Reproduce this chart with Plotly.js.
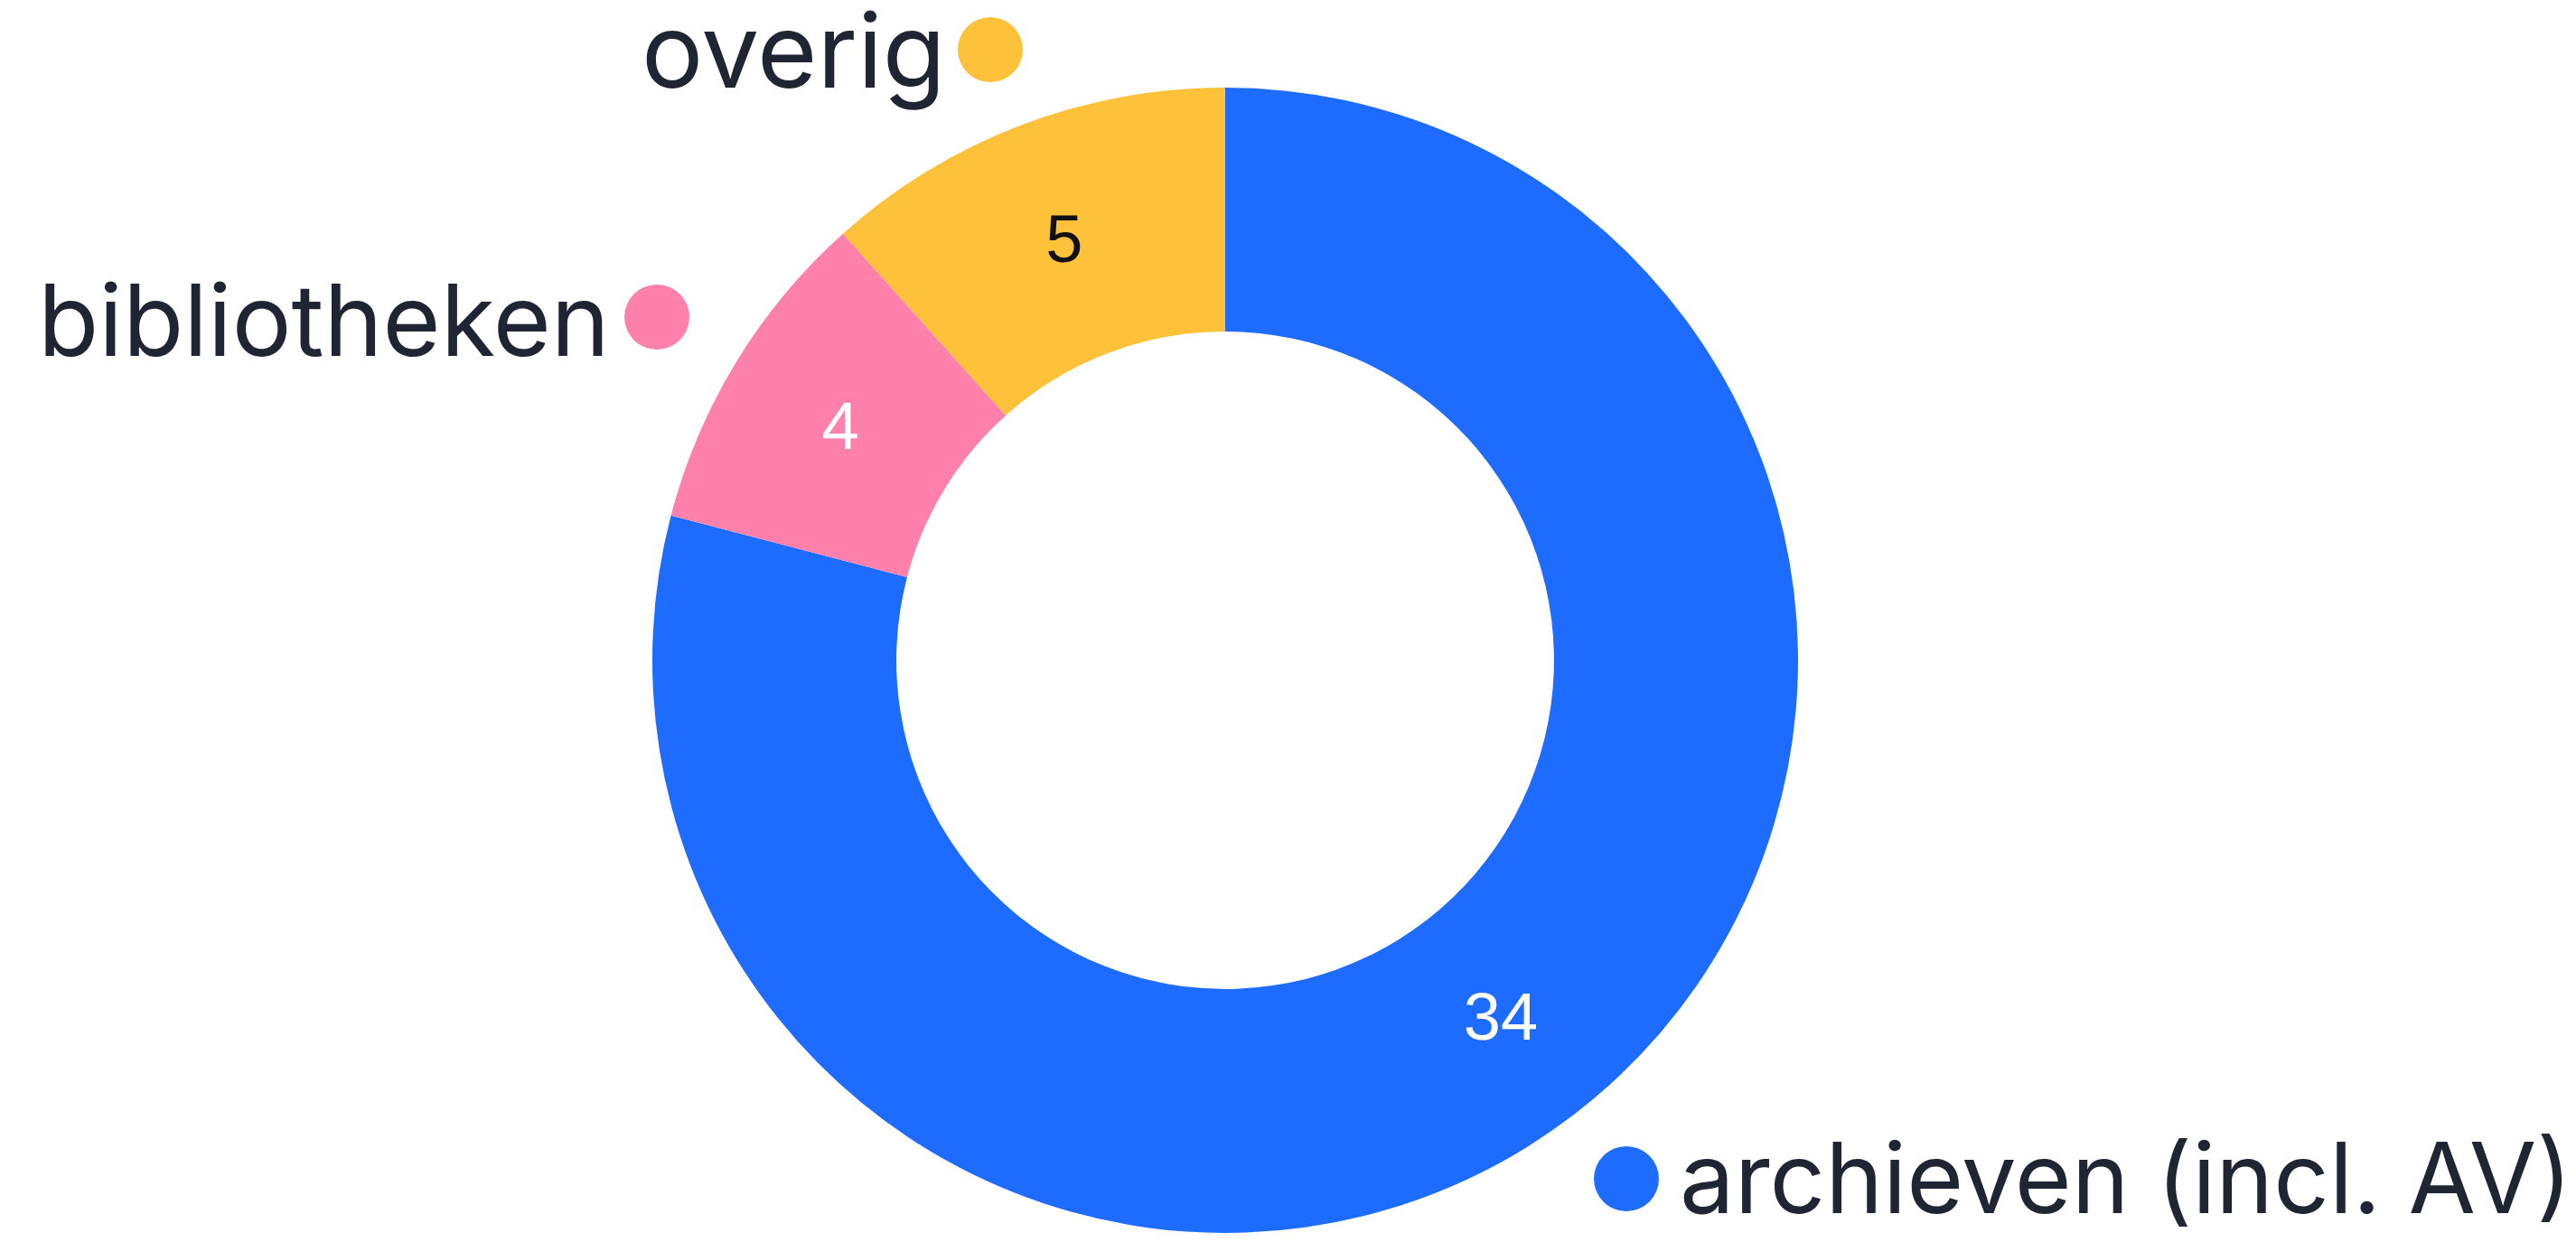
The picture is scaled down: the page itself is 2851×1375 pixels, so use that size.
<!DOCTYPE html>
<html>
<head>
<meta charset="utf-8">
<script src="https://cdn.plot.ly/plotly-3.0.1.min.js"></script>
<style>html,body{margin:0;padding:0;background:#fff;}#chart{width:2851px;height:1375px;}</style>
</head>
<body>
<div id="chart"></div>
<script>
const categories = ["archieven (incl. AV)", "bibliotheken", "overig"];
const values = [34, 4, 5];
const colors = ["#1d6cff", "#ff80aa", "#fdc13a"];
const valueTextColors = ["#ffffff", "#ffffff", "#111111"];

const W = 2851, H = 1375;
const px = x => x / W;
const py = y => 1 - y / H;

const trace = {
  type: "pie",
  labels: categories,
  values: values,
  sort: false,
  direction: "clockwise",
  rotation: 0,
  hole: 0.574,
  marker: { colors: colors, line: { width: 0 } },
  textinfo: "value",
  textposition: "inside",
  insidetextorientation: "horizontal",
  textfont: { family: "Liberation Sans, Arial, sans-serif", size: 74, color: valueTextColors },
  domain: { x: [px(722), px(1990)], y: [py(1365), py(97)] },
  showlegend: false,
  hoverinfo: "label+value"
};

// label placement: text left x, y centre, font size, dot centre
const labelPos = [
  { x: 1857, y: 1303, size: 108, dx: 1800, dy: 1305 },
  { x: 40, y: 354, size: 110, dx: 727, dy: 351 },
  { x: 708, y: 56, size: 114, dx: 1096, dy: 55 }
];
const dotR = 36;

const annotations = categories.map((c, i) => ({
  text: c,
  xref: "paper", yref: "paper",
  x: px(labelPos[i].x), y: py(labelPos[i].y),
  xanchor: "left", yanchor: "middle",
  showarrow: false,
  font: { family: "Inter, Lato, sans-serif", size: labelPos[i].size, color: "#1f2532" }
}));

const shapes = categories.map((c, i) => ({
  type: "circle",
  xref: "paper", yref: "paper",
  x0: px(labelPos[i].dx - dotR), x1: px(labelPos[i].dx + dotR),
  y0: py(labelPos[i].dy + dotR), y1: py(labelPos[i].dy - dotR),
  fillcolor: colors[i],
  line: { width: 0 }
}));

const layout = {
  width: W, height: H,
  margin: { l: 0, r: 0, t: 0, b: 0 },
  paper_bgcolor: "#ffffff",
  plot_bgcolor: "#ffffff",
  annotations: annotations,
  shapes: shapes,
  showlegend: false
};

Plotly.newPlot("chart", [trace], layout, { displayModeBar: false, responsive: false });
</script>
</body>
</html>
